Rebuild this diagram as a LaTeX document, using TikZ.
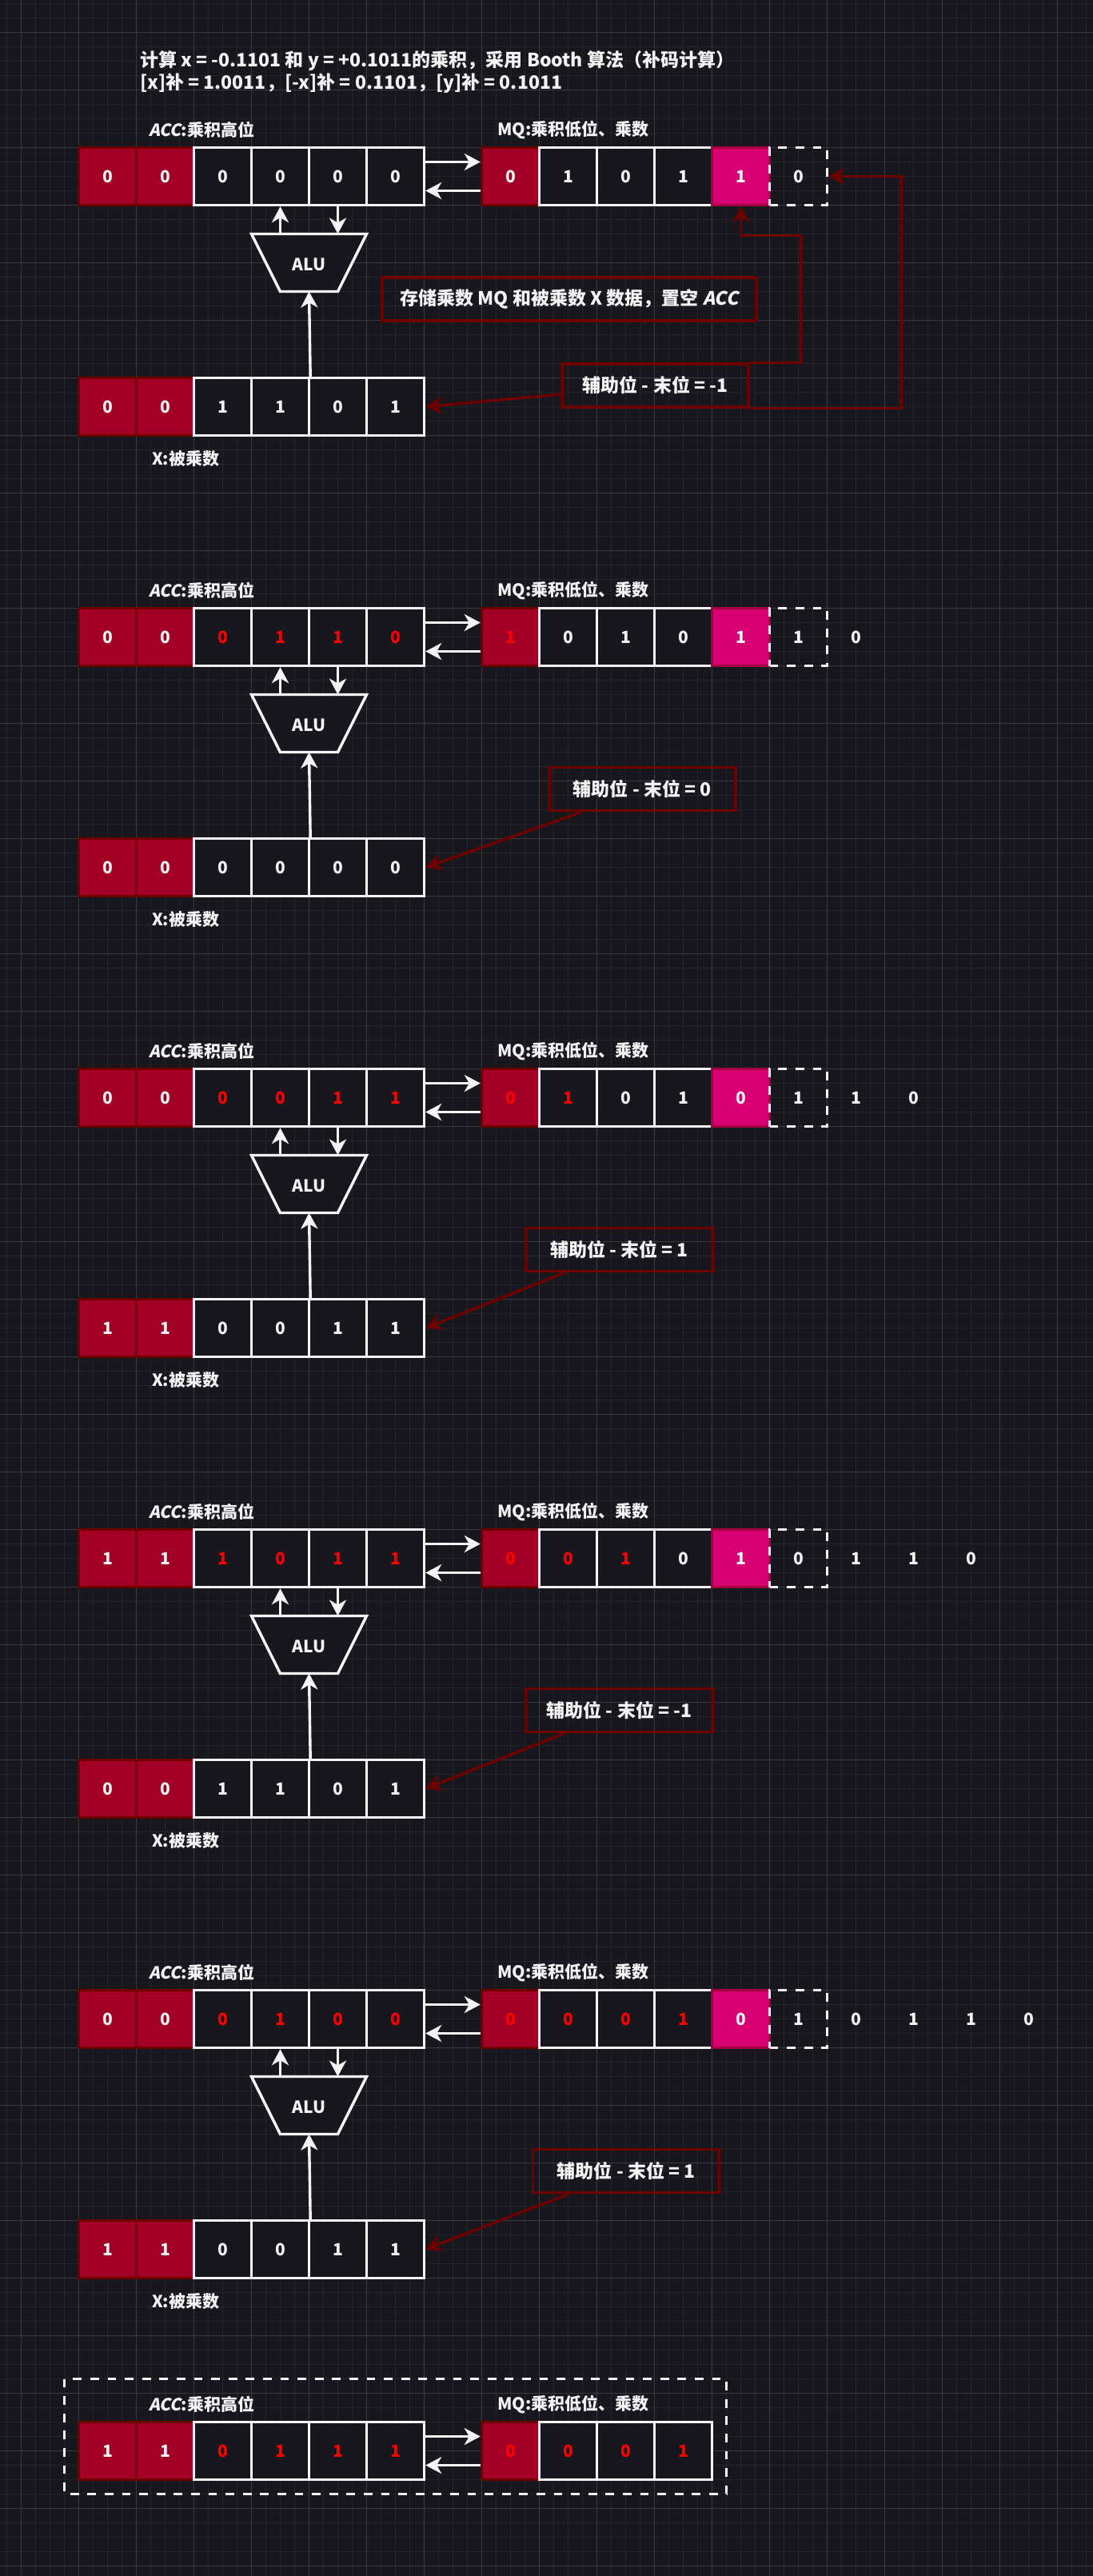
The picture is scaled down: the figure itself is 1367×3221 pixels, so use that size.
\documentclass[tikz,border=0pt]{standalone}
\usepackage{fontspec}
\setmainfont{Noto Sans CJK SC}
\newfontfamily\accsl{Noto Sans CJK SC}[FakeSlant=0.2]
\usetikzlibrary{arrows.meta}

\definecolor{bgdark}{HTML}{18171E}
\definecolor{gridminor}{HTML}{25242B}
\definecolor{gridmajor}{HTML}{3B3A41}
\definecolor{wt}{HTML}{F4F4F4}
\definecolor{hot}{HTML}{FF0000}
\definecolor{signred}{HTML}{A20025}
\definecolor{signedge}{HTML}{6F0000}
\definecolor{lowpink}{HTML}{D80073}
\definecolor{lowedge}{HTML}{A50040}

\tikzset{
  txt/.style={text=wt, inner sep=0pt, font=\fontsize{21}{25}\selectfont\bfseries},
  bigtxt/.style={txt, font=\fontsize{23}{27}\selectfont\bfseries},
  cell/.style={txt, minimum width=72pt, minimum height=72pt, line width=3.4pt},
  signcell/.style={cell, fill=signred, draw=signedge},
  bitcell/.style={cell, fill=bgdark, draw=wt},
  lowcell/.style={cell, fill=lowpink, draw=lowedge},
  guardcell/.style={cell, draw=wt, dash pattern=on 10.8pt off 10.8pt},
  sparecell/.style={cell},
  wire/.style={draw=wt, line width=3.4pt, -{Stealth[length=20pt,width=21pt,inset=6pt]}},
  hint/.style={wire, draw=signedge},
  tipbox/.style={bigtxt, draw=signedge, line width=3.4pt, minimum height=54pt},
}

\newcommand\regpair[4]{%
  \node[txt, anchor=west] (accname#1) at (186,#2-22) {{\accsl ACC}:乘积高位};
  \node[txt, anchor=west] (mqname#1) at (622,#2-22) {MQ:乘积低位、乘数};
  \foreach \b/\c [count=\i from 0] in {#3} {
    \ifnum\i<2 \def\kind{signcell}\else\def\kind{bitcell}\fi
    \node[\kind, text=\c] (acc#1-\i) at (134.5+72*\i,#2+36) {\b};
  }
  \foreach \b/\c [count=\i from 0] in {#4} {
    \ifcase\i\relax \def\kind{signcell}\or\def\kind{bitcell}\or\def\kind{bitcell}\or
      \def\kind{bitcell}\or\def\kind{lowcell}\or\def\kind{guardcell}\else\def\kind{sparecell}\fi
    \node[\kind, text=\c] (mq#1-\i) at (638.5+72*\i,#2+36) {\b};
  }
  \draw[wire] ([yshift=18pt]acc#1-5.east) -- ([yshift=18pt]mq#1-0.west);
  \draw[wire] ([yshift=-18pt]mq#1-0.west) -- ([yshift=-18pt]acc#1-5.east);
}

\newcommand\aluandx[3]{%
  \draw[draw=wt, fill=bgdark, line width=3.4pt] (314.5,#2+108) -- (458.5,#2+108)
    -- (422.5,#2+180) -- (350.5,#2+180) -- cycle;
  \node[txt] (alu#1) at (386.5,#2+146) {ALU};
  \coordinate (alutop#1) at (386.5,#2+108);
  \coordinate (alubot#1) at (386.5,#2+180);
  \foreach \b/\c [count=\i from 0] in {#3} {
    \ifnum\i<2 \def\kind{signcell}\else\def\kind{bitcell}\fi
    \node[\kind, text=\c] (x#1-\i) at (134.5+72*\i,#2+324) {\b};
  }
  \node[txt, anchor=west] (xname#1) at (190,#2+389) {X:被乘数};
  \draw[wire] (alutop#1 -| acc#1-3) -- (acc#1-3.south);
  \draw[wire] (acc#1-4.south) -- (alutop#1 -| acc#1-4);
  \draw[wire] (x#1-3.north east) -- (alubot#1);
}

\begin{document}
\begin{tikzpicture}[x=1pt, y=-1pt]
  \useasboundingbox (0,0) rectangle (1367,3221);
  \fill[bgdark] (0,0) rectangle (1367,3221);
  \foreach \g in {0,...,75} \draw[gridminor, line width=1pt] (8.5+18*\g,0) -- (8.5+18*\g,3221);
  \foreach \g in {0,...,178} \draw[gridminor, line width=1pt] (0,4.5+18*\g) -- (1367,4.5+18*\g);
  \foreach \g in {0,...,18} \draw[gridmajor, line width=1pt] (26.5+72*\g,0) -- (26.5+72*\g,3221);
  \foreach \g in {0,...,44} \draw[gridmajor, line width=1pt] (0,40.5+72*\g) -- (1367,40.5+72*\g);

  \node[bigtxt, anchor=west] (title1) at (175,76) {计算 x = -0.1101 和 y = +0.1011的乘积，采用 Booth 算法（补码计算）};
  \node[bigtxt, anchor=west] (title2) at (175,104) {[x]补 = 1.0011，[-x]补 = 0.1101，[y]补 = 0.1011};

  % step 1
  \regpair{1}{184.5}{0/wt,0/wt,0/wt,0/wt,0/wt,0/wt}{0/wt,1/wt,0/wt,1/wt,1/wt,0/wt}
  \aluandx{1}{184.5}{0/wt,0/wt,1/wt,1/wt,0/wt,1/wt}
  \node[tipbox, minimum width=468pt] (note1) at (712,374) {存储乘数 MQ 和被乘数 X 数据，置空 {\accsl ACC}};
  \node[tipbox, minimum width=233pt] (aux1) at (819.5,482) {辅助位 - 末位 = -1};
  \draw[hint] ([yshift=-11pt]aux1.west) -- (x1-5.east);
  \draw[hint] (aux1.north east) -- ++(64,0) |- ([yshift=-36pt]mq1-4.south) -- (mq1-4.south);
  \draw[hint] (aux1.south east) -- ++(190,0) |- (mq1-5.east);

  % step 2
  \regpair{2}{760.5}{0/wt,0/wt,0/hot,1/hot,1/hot,0/hot}{1/hot,0/wt,1/wt,0/wt,1/wt,1/wt,0/wt}
  \aluandx{2}{760.5}{0/wt,0/wt,0/wt,0/wt,0/wt,0/wt}
  \node[tipbox, minimum width=233pt] (aux2) at (803.3,986.7) {辅助位 - 末位 = 0};
  \draw[hint] ([xshift=42pt]aux2.south west) -- (x2-5.east);

  % step 3
  \regpair{3}{1336.5}{0/wt,0/wt,0/hot,0/hot,1/hot,1/hot}{0/hot,1/hot,0/wt,1/wt,0/wt,1/wt,1/wt,0/wt}
  \aluandx{3}{1336.5}{1/wt,1/wt,0/wt,0/wt,1/wt,1/wt}
  \node[tipbox, minimum width=233pt] (aux3) at (774.5,1562.5) {辅助位 - 末位 = 1};
  \draw[hint] ([xshift=50pt]aux3.south west) -- (x3-5.east);

  % step 4
  \regpair{4}{1912.5}{1/wt,1/wt,1/hot,0/hot,1/hot,1/hot}{0/hot,0/hot,1/hot,0/wt,1/wt,0/wt,1/wt,1/wt,0/wt}
  \aluandx{4}{1912.5}{0/wt,0/wt,1/wt,1/wt,0/wt,1/wt}
  \node[tipbox, minimum width=233pt] (aux4) at (774.5,2138.4) {辅助位 - 末位 = -1};
  \draw[hint] ([xshift=50pt]aux4.south west) -- (x4-5.east);

  % step 5
  \regpair{5}{2488.5}{0/wt,0/wt,0/hot,1/hot,0/hot,0/hot}{0/hot,0/hot,0/hot,1/hot,0/wt,1/wt,0/wt,1/wt,1/wt,0/wt}
  \aluandx{5}{2488.5}{1/wt,1/wt,0/wt,0/wt,1/wt,1/wt}
  \node[tipbox, minimum width=233pt] (aux5) at (783.2,2714.2) {辅助位 - 末位 = 1};
  \draw[hint] ([xshift=47pt]aux5.south west) -- (x5-5.east);

  % result
  \regpair{6}{3028.5}{1/wt,1/wt,0/hot,1/hot,1/hot,1/hot}{0/hot,0/hot,0/hot,1/hot}
  \draw[wt, line width=3.4pt, dash pattern=on 10.8pt off 10.8pt] (80.5,2974.5) rectangle (908.5,3118.5);
\end{tikzpicture}
\end{document}
